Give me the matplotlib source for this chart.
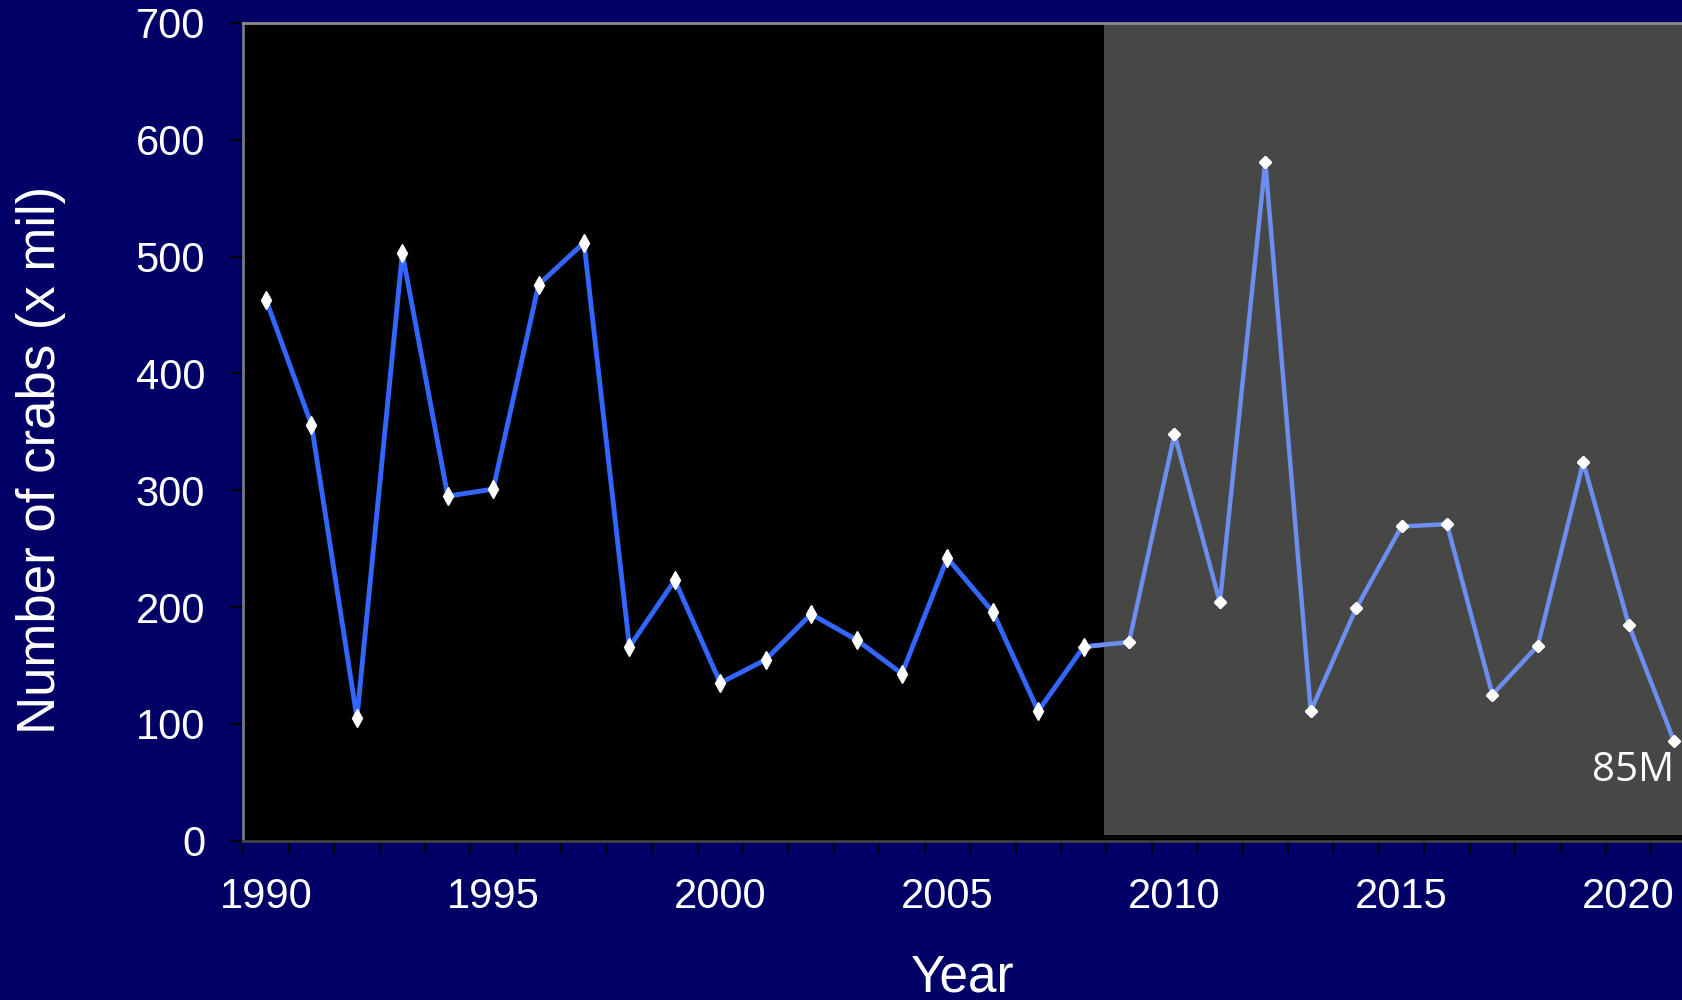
import matplotlib
matplotlib.use("Agg")
import matplotlib.pyplot as plt
from matplotlib.patches import Rectangle
import numpy as np

# crab counts (millions)
years = list(range(1990, 2022))
crabs = [463, 356, 105, 503, 295, 301, 476, 512, 166, 223,
         135, 155, 194, 172, 143, 242, 196, 111, 166, 170,
         348, 204, 581, 111, 199, 269, 271, 125, 167, 324,
         185, 85]
label_years = [1990, 1995, 2000, 2005, 2010, 2015, 2020]
y_ticks = [0, 100, 200, 300, 400, 500, 600, 700]
split_year = 2008       # newer data pasted over from here
last_label = "85M"

navy = "#000066"
old_blue = "#3366ff"
new_blue = "#6b8ef0"
panel_grey = "#474845"

plt.rcParams['font.family'] = ['Liberation Sans', 'DejaVu Sans']

fig = plt.figure(figsize=(16.83, 10), dpi=100, facecolor=navy)
ax = fig.add_axes([0.1446, 0.1593, 0.8636, 0.8177])
ax.set_facecolor("black")

x = np.array(years)
y = np.array(crabs)
old = x <= split_year + 1
new = x >= split_year

ax.plot(x[old], y[old], color=old_blue, lw=3.5, marker='d', ms=9,
        mfc='white', mec='white', zorder=2, clip_on=False)

# grey panel of the newer chart
panel = Rectangle((split_year + 0.44, 5), 20, 695, facecolor=panel_grey,
                  edgecolor='none', zorder=3)
ax.add_patch(panel)

ln, = ax.plot(x[new], y[new], color=new_blue, lw=3.2, marker='D', ms=6,
              mfc='white', mec='white', zorder=4, clip_on=False)
ln.set_clip_path(panel)
ax.plot(x[new][1:], y[new][1:], ls='none', marker='D', ms=6,
        mfc='white', mec='white', zorder=5, clip_on=False)

ax.text(years[-1], 60, last_label, ha='right', va='center', color='white',
        fontsize=29, family=['Open Sans', 'DejaVu Sans'], zorder=6)

ax.set_xlim(1989.5, 2021.5)
ax.set_ylim(0, 700)

# tick marks between categories, labels on the year
ax.set_xticks(np.arange(1989.5, 2022, 1.0))
ax.set_xticklabels([])
ax.set_xticks(label_years, minor=True)
ax.set_xticklabels([str(v) for v in label_years], minor=True)
ax.tick_params(axis='x', which='major', direction='out', length=9,
               width=1.3, color='black')
ax.tick_params(axis='x', which='minor', length=0, pad=26,
               labelsize=30, labelcolor='white')

ax.set_yticks(y_ticks)
ax.set_yticklabels([str(v) for v in y_ticks])
ax.tick_params(axis='y', direction='out', length=9.5, width=1.3,
               color='black', pad=18, labelsize=30, labelcolor='white')

ax.spines['right'].set_visible(False)
ax.spines['top'].set_color('#8a8a8a')
ax.spines['left'].set_color('#7a7a7a')
ax.spines['bottom'].set_color('#404040')
for s in ['top', 'left', 'bottom']:
    ax.spines[s].set_linewidth(2)
    ax.spines[s].set_zorder(7)

fig.text(0.572, 0.008, 'Year', color='white', fontsize=37,
         ha='center', va='baseline')
fig.text(0.0245, 0.54, 'Number of crabs (x mil)', color='white', fontsize=38,
         rotation=90, ha='center', va='center')

fig.savefig('out.png', dpi=100, facecolor=navy)
